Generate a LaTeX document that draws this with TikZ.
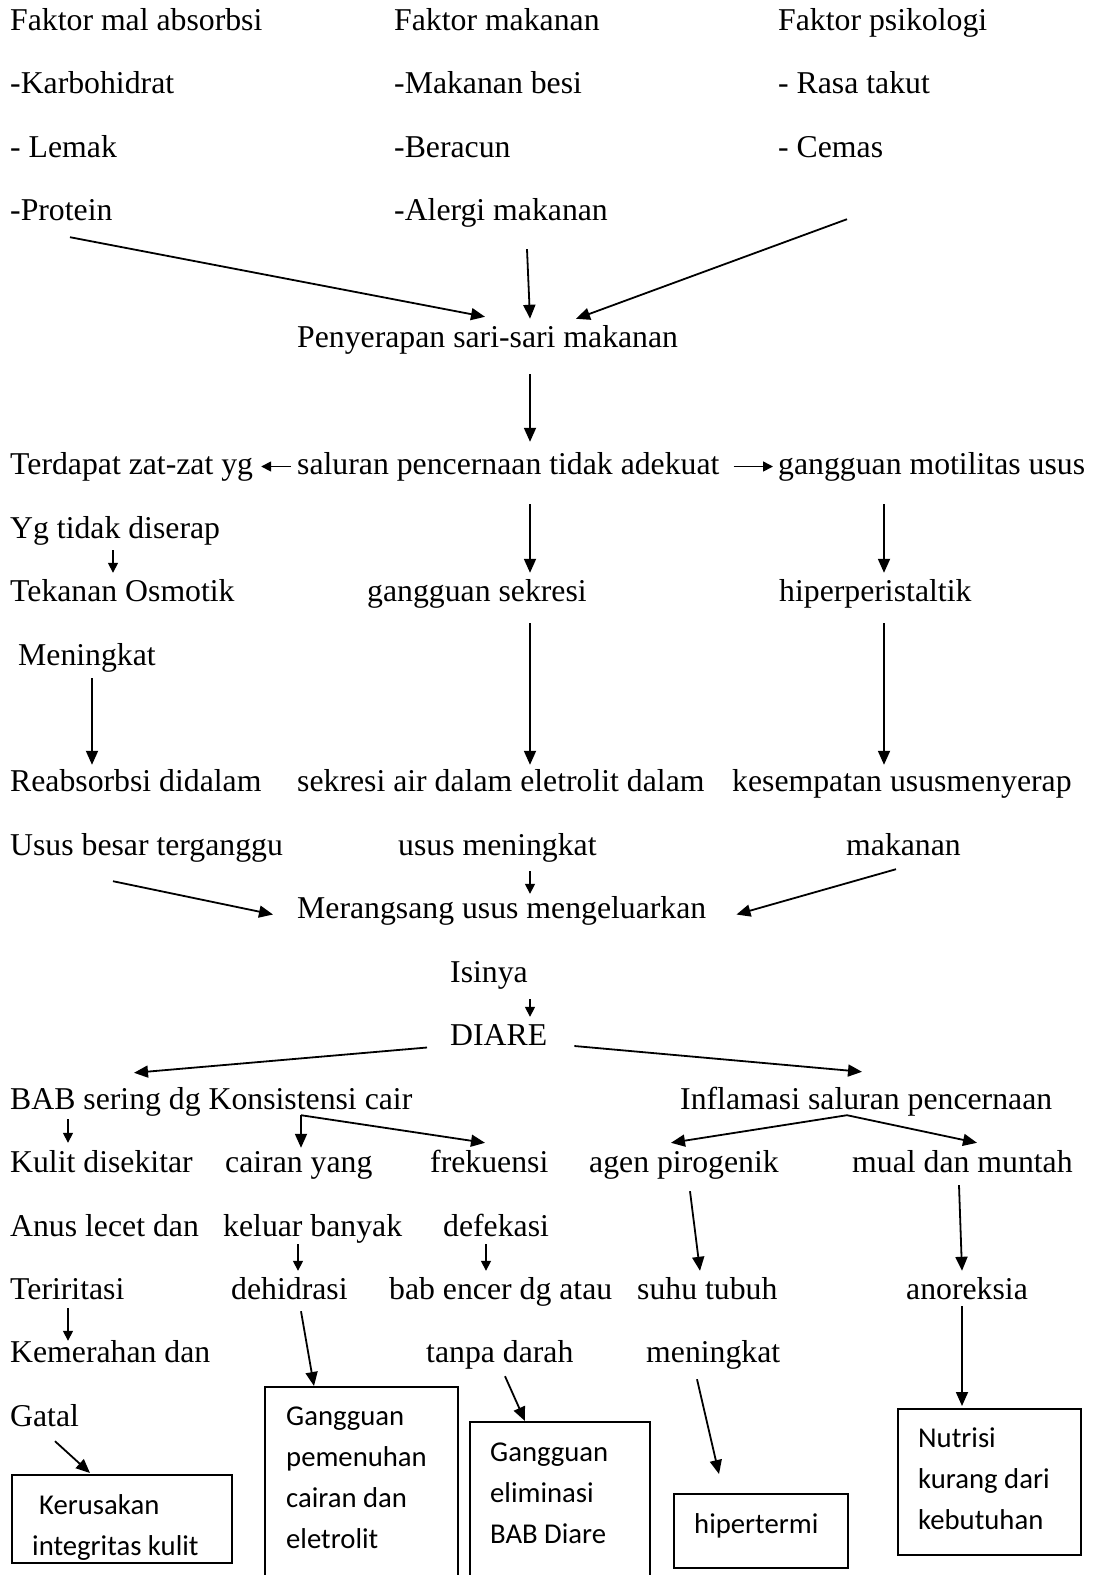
\documentclass[tikz,border=0pt]{standalone}
\usepackage{fontspec}
\setmainfont{Liberation Serif}
\newfontfamily\boxfont{Carlito}
\usepackage{tikz}
\usetikzlibrary{arrows.meta}

\begin{document}
\begin{tikzpicture}[x=1pt, y=-1pt,
    txt/.style={anchor=base west, inner sep=0pt, text height=22pt, text depth=7pt, font=\fontsize{31.75}{38}\selectfont},
    box/.style={draw, line width=2pt, anchor=north west, inner sep=0pt},
    boxtxt/.style={anchor=base west, inner sep=0pt, align=left, font=\boxfont\fontsize{28.7}{41}\selectfont},
    arrow/.style={-{Triangle[length=14pt, width=12pt]}, line width=1.8pt},
    sarrow/.style={-{Triangle[length=10pt, width=10pt]}, line width=1.6pt}
]
    \useasboundingbox (0,0) rectangle (1094,1575);

    \node[txt] (fmal)    at (10,30)  {Faktor mal absorbsi};
    \node[txt] (fmak)    at (394,30) {Faktor makanan};
    \node[txt] (fpsi)    at (778,30) {Faktor psikologi};
    \node[txt] (karbo)   at (10,93)  {-Karbohidrat};
    \node[txt] (besi)    at (394,93) {-Makanan besi};
    \node[txt] (takut)   at (778,93) {- Rasa takut};
    \node[txt] (lemak)   at (10,157) {- Lemak};
    \node[txt] (racun)   at (394,157) {-Beracun};
    \node[txt] (cemas)   at (778,157) {- Cemas};
    \node[txt] (protein) at (10,220) {-Protein};
    \node[txt] (alergi)  at (394,220) {-Alergi makanan};
    \node[txt] (serap)   at (297,347) {Penyerapan sari-sari makanan};

    \node[txt] (zat)     at (10,474)  {Terdapat zat-zat yg};
    \node[txt] (saluran) at (297,474) {saluran pencernaan tidak adekuat};
    \node[txt] (motil)   at (778,474) {gangguan motilitas usus};
    \node[txt] (tdkserap) at (10,538) {Yg tidak diserap};
    \node[txt] (osmotik) at (10,601)  {Tekanan Osmotik};
    \node[txt] (sekresi) at (367,601) {gangguan sekresi};
    \node[txt] (hiper)   at (779,601) {hiperperistaltik};
    \node[txt] (naik)    at (18,665)  {Meningkat};
    \node[txt] (reabs)   at (10,791)  {Reabsorbsi didalam};
    \node[txt] (sekair)  at (297,791) {sekresi air dalam eletrolit dalam};
    \node[txt] (sempat)  at (732,791) {kesempatan ususmenyerap};
    \node[txt] (usbesar) at (10,855)  {Usus besar terganggu};
    \node[txt] (usnaik)  at (398,855) {usus meningkat};
    \node[txt] (makn)    at (846,855) {makanan};
    \node[txt] (rangsang) at (297,918) {Merangsang usus mengeluarkan};
    \node[txt] (isi)     at (450,982)  {Isinya};
    \node[txt] (diare)   at (450,1045) {DIARE};

    \node[txt] (bab)     at (10,1109)  {BAB sering dg Konsistensi cair};
    \node[txt] (inflam)  at (680,1109) {Inflamasi saluran pencernaan};
    \node[txt] (kulit)   at (10,1172)  {Kulit disekitar};
    \node[txt] (cairan)  at (225,1172) {cairan yang};
    \node[txt] (frek)    at (430,1172) {frekuensi};
    \node[txt] (agen)    at (589,1172) {agen pirogenik};
    \node[txt] (mual)    at (852,1172) {mual dan muntah};
    \node[txt] (anus)    at (10,1236)  {Anus lecet dan};
    \node[txt] (keluar)  at (223,1236) {keluar banyak};
    \node[txt] (defek)   at (443,1236) {defekasi};
    \node[txt] (iritasi) at (10,1299)  {Teriritasi};
    \node[txt] (dehid)   at (231,1299) {dehidrasi};
    \node[txt] (encer)   at (389,1299) {bab encer dg atau};
    \node[txt] (suhu)    at (637,1299) {suhu tubuh};
    \node[txt] (anor)    at (906,1299) {anoreksia};
    \node[txt] (merah)   at (10,1362)  {Kemerahan dan};
    \node[txt] (darah)   at (426,1362) {tanpa darah};
    \node[txt] (suhunaik) at (646,1362) {meningkat};
    \node[txt] (gatal)   at (10,1426)  {Gatal};

    \node[box, minimum width=220pt, minimum height=88pt]  (bkulit)  at (11,1474) {};
    \node[box, minimum width=193pt, minimum height=204pt] (bcairan) at (264,1386) {};
    \node[box, minimum width=180pt, minimum height=169pt] (belim)   at (469,1421) {};
    \node[box, minimum width=174pt, minimum height=74pt]  (bhiper)  at (673,1493) {};
    \node[box, minimum width=183pt, minimum height=146pt] (bnutri)  at (897,1408) {};

    \begin{scope}
        \clip (bkulit.north west) rectangle (bkulit.south east);
        \node[boxtxt] (tkulit) at (32,1555) {\hspace{7pt}Kerusakan\\integritas kulit};
    \end{scope}
    \node[boxtxt] (tcairan) at (286,1548) {Gangguan\\pemenuhan\\cairan dan\\eletrolit};
    \node[boxtxt] (telim)   at (490,1543) {Gangguan\\eliminasi\\BAB Diare};
    \node[boxtxt] (thiper)  at (694,1533) {hipertermi};
    \node[boxtxt] (tnutri)  at (918,1529) {Nutrisi\\kurang dari\\kebutuhan};

    \draw[arrow] ([shift={(60,10)}]protein.south west) -- ([shift={(188,-8)}]serap.north west);
    \draw[arrow] ([shift={(133,22)}]alergi.south west) -- ([shift={(233,-6)}]serap.north west);
    \draw[arrow] ([shift={(69,55)}]cemas.south west) -- ([shift={(279,-6)}]serap.north west);
    \draw[arrow] ([shift={(233,20)}]serap.south west) -- ([shift={(233,-10)}]saluran.north west);
    \draw[sarrow] ([xshift=-6pt]saluran.west) -- ([xshift=8pt]zat.east);
    \draw[sarrow] ([xshift=14pt]saluran.east) -- ([xshift=-5pt]motil.west);
    \draw[arrow] ([shift={(233,23)}]saluran.south west) -- ([shift={(163,-6)}]sekresi.north west);
    \draw[arrow] ([shift={(106,23)}]motil.south west) -- ([shift={(105,-6)}]hiper.north west);
    \draw[sarrow] ([shift={(103,5)}]tdkserap.south west) -- ([shift={(103,-6)}]osmotik.north west);
    \draw[arrow] ([shift={(74,6)}]naik.south west) -- ([shift={(82,-4)}]reabs.north west);
    \draw[arrow] ([shift={(163,15)}]sekresi.south west) -- ([shift={(233,-4)}]sekair.north west);
    \draw[arrow] ([shift={(105,15)}]hiper.south west) -- ([shift={(152,-4)}]sempat.north west);
    \draw[arrow] ([shift={(103,19)}]usbesar.south west) -- ([shift={(-24,4)}]rangsang.west);
    \draw[sarrow] ([shift={(132,9)}]usnaik.south west) -- ([shift={(233,-2)}]rangsang.north west);
    \draw[arrow] ([shift={(50,7)}]makn.south west) -- ([shift={(30,4)}]rangsang.east);
    \draw[sarrow] ([shift={(80,10)}]isi.south west) -- ([shift={(80,-6)}]diare.north west);
    \draw[arrow] ([shift={(-23,10)}]diare.west) -- ([shift={(124,-14)}]bab.north west);
    \draw[arrow] ([shift={(27,8.5)}]diare.east) -- ([shift={(182,-15)}]inflam.north west);
    \draw[sarrow] ([shift={(58,3)}]bab.south west) -- ([shift={(58,-7)}]kulit.north west);
    \draw[arrow] ([shift={(291,-1)}]bab.south west) coordinate (pecah) -- ([shift={(76,-2)}]cairan.north west);
    \draw[arrow] (pecah) -- ([shift={(55,-7)}]frek.north west);
    \draw[arrow] ([shift={(167,-1)}]inflam.south west) coordinate (cabang) -- ([shift={(82,-7)}]agen.north west);
    \draw[arrow] (cabang) -- ([shift={(125,-7)}]mual.north west);
    \draw[sarrow] ([shift={(75,1)}]keluar.south west) -- ([shift={(67,-6)}]dehid.north west);
    \draw[sarrow] ([shift={(43,1)}]defek.south west) -- ([shift={(97,-6)}]encer.north west);
    \draw[arrow] ([shift={(101,12)}]agen.south west) -- ([shift={(63,-6)}]suhu.north west);
    \draw[arrow] ([shift={(107,6)}]mual.south west) -- ([shift={(56,-6)}]anor.north west);
    \draw[sarrow] ([shift={(58,2)}]iritasi.south west) -- ([shift={(58,1)}]merah.north west);
    \draw[arrow] ([shift={(70,5)}]dehid.south west) -- ([shift={(50,0)}]bcairan.north west);
    \draw[arrow] ([shift={(79,7)}]darah.south west) -- ([shift={(56,0)}]belim.north west);
    \draw[arrow] ([shift={(51,10)}]suhunaik.south west) -- ([shift={(46,-19)}]bhiper.north west);
    \draw[arrow] ([shift={(56,0)}]anor.south west) -- ([shift={(65,-2)}]bnutri.north west);
    \draw[arrow] ([shift={(45,8)}]gatal.south west) -- ([shift={(79,-1)}]bkulit.north west);
\end{tikzpicture}
\end{document}
